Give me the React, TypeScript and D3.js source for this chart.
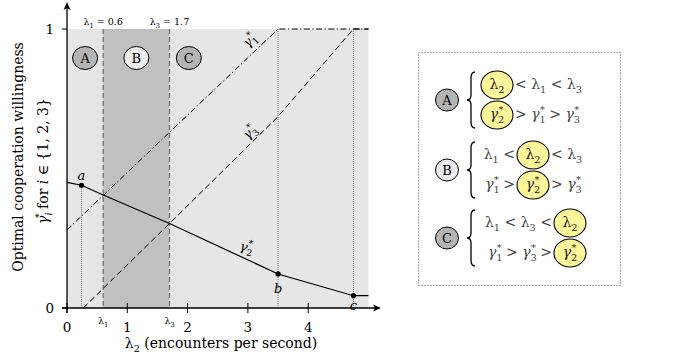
import React from "react";
import * as d3 from "d3";

// ---------- data ----------
const xTicks = [0, 1, 2, 3, 4];
const yTicks = [0, 1];
const lambda1 = 0.6;
const lambda3 = 1.7;

const gamma1Lambda = [0, 3.5, 5];
const gamma1Values = [0.28, 1, 1];

const gamma2Lambda = [0, 0.24, 0.6, 1.7, 3.5, 4.75, 5];
const gamma2Values = [0.45, 0.44, 0.405, 0.303, 0.122, 0.044, 0.044];

const gamma3Lambda = [0.27, 0.6, 1.7, 3.5, 4.75, 5];
const gamma3Values = [0, 0.07, 0.303, 0.686, 1, 1];

const markLabels = ["a", "b", "c"];
const markLambda = [0.24, 3.5, 4.75];
const markValues = [0.44, 0.122, 0.044];

const regionLabels = ["A", "B", "C"];
const regionLambda = [0.3, 1.15, 2.02];

// ---------- layout ----------
const FONT = "DejaVu Serif, Liberation Serif, serif";
const x = d3.scaleLinear().domain([0, 5]).range([67, 368.5]);
const y = d3.scaleLinear().domain([0, 1]).range([308, 29]);

type Tok = string | { b: string; sub?: string; sup?: string; it?: boolean };

function mathTspans(tokens: Tok[], size: number) {
  const out: React.ReactNode[] = [];
  let off = 0;
  let k = 0;
  tokens.forEach((t) => {
    if (typeof t === "string") {
      out.push(
        <tspan key={k++} dy={-off} fontStyle="normal" fontSize={size}>
          {t}
        </tspan>
      );
      off = 0;
    } else {
      out.push(
        <tspan key={k++} dy={-off} fontStyle={t.it === false ? "normal" : "italic"} fontSize={size}>
          {t.b}
        </tspan>
      );
      off = 0;
      const ss = size * 0.7;
      if (t.sub) {
        const d = size * 0.28;
        out.push(
          <tspan key={k++} dy={d} fontSize={ss} fontStyle={/[a-z]/.test(t.sub) ? "italic" : "normal"}>
            {t.sub}
          </tspan>
        );
        off += d;
      }
      if (t.sup) {
        const d = t.sub ? -size * 0.72 : -size * 0.42;
        out.push(
          <tspan key={k++} dx={t.sub ? -ss * 0.6 : 0} dy={d} fontSize={ss}>
            {t.sup}
          </tspan>
        );
        off += d;
      }
    }
  });
  return out;
}

const L = (s: string): Tok => ({ b: "λ", sub: s, it: false });
const G = (s: string): Tok => ({ b: "γ", sub: s, sup: "*" });

// Legend rows: left tokens, highlighted token, right tokens
const legendLeft: Tok[][][] = [
  [[], []],
  [[L("1"), " <"], [G("1"), " >"]],
  [[L("1"), " < ", L("3"), " <"], [G("1"), " > ", G("3"), " >"]],
];
const legendHl: Tok[][] = [
  [L("2"), G("2")],
  [L("2"), G("2")],
  [L("2"), G("2")],
];
const legendRight: Tok[][][] = [
  [["< ", L("1"), " < ", L("3")], ["> ", G("1"), " > ", G("3")]],
  [["< ", L("3")], ["> ", G("3")]],
  [[], []],
];
const legendHlX = [497, 533, 570];
const legendCy = [100, 170, 238];
const regionFill = ["#b4b4b4", "#ececec", "#b4b4b4"];

function Brace({ x0, y0, y1 }: { x0: number; y0: number; y1: number }) {
  const m = (y0 + y1) / 2;
  const d = `M${x0 + 4},${y0} Q${x0},${y0} ${x0},${y0 + 6} L${x0},${m - 5} Q${x0},${m} ${x0 - 4},${m} Q${x0},${m} ${x0},${m + 5} L${x0},${y1 - 6} Q${x0},${y1} ${x0 + 4},${y1}`;
  return <path d={d} fill="none" stroke="#000" strokeWidth={1.3} />;
}

export default function App() {
  const line = d3
    .line<[number, number]>()
    .x((d) => x(d[0]))
    .y((d) => y(d[1]));
  const g1 = line(gamma1Lambda.map((l, i) => [l, gamma1Values[i]]))!;
  const g2 = line(gamma2Lambda.map((l, i) => [l, gamma2Values[i]]))!;
  const g3 = line(gamma3Lambda.map((l, i) => [l, gamma3Values[i]]))!;

  return (
    <svg
      width={674}
      height={360}
      style={{ position: "absolute", left: 0, top: 0, background: "#fff" }}
      fontFamily={FONT}
    >
      {/* background areas */}
      <rect x={x(0)} y={y(1)} width={x(5) - x(0)} height={y(0) - y(1)} fill="#e6e6e6" />
      <rect x={x(lambda1)} y={y(1)} width={x(lambda3) - x(lambda1)} height={y(0) - y(1)} fill="#c0c0c0" />

      {/* dotted verticals */}
      <line x1={x(markLambda[0])} x2={x(markLambda[0])} y1={y(markValues[0])} y2={y(0)} stroke="#777" strokeDasharray="1 1" />
      {[1, 2].map((i) => (
        <line key={i} x1={x(markLambda[i])} x2={x(markLambda[i])} y1={y(1)} y2={y(0)} stroke="#777" strokeDasharray="1 1" />
      ))}

      {/* lambda dashed lines */}
      {[lambda1, lambda3].map((l, i) => (
        <line key={i} x1={x(l)} x2={x(l)} y1={y(1)} y2={y(0)} stroke="#6e6e6e" strokeWidth={1.2} strokeDasharray="5 3" />
      ))}

      {/* curves */}
      <path d={g1} fill="none" stroke="#000" strokeWidth={1} strokeDasharray="6 2.5 1.2 2.5" />
      <path d={g3} fill="none" stroke="#000" strokeWidth={1} strokeDasharray="6 3.5" />
      <path d={g2} fill="none" stroke="#000" strokeWidth={1.2} />

      {/* marks */}
      {markLambda.map((l, i) => (
        <circle key={i} cx={x(l)} cy={y(markValues[i])} r={2.6} fill="#000" />
      ))}
      <text x={x(markLambda[0])} y={y(markValues[0]) - 5} fontSize={13} fontStyle="italic" textAnchor="middle">{markLabels[0]}</text>
      <text x={x(markLambda[1])} y={y(markValues[1]) + 19} fontSize={13} fontStyle="italic" textAnchor="middle">{markLabels[1]}</text>
      <text x={x(markLambda[2])} y={y(markValues[2]) + 14} fontSize={13} fontStyle="italic" textAnchor="middle">{markLabels[2]}</text>

      {/* region circles */}
      {regionLabels.map((r, i) => (
        <g key={r}>
          <ellipse cx={x(regionLambda[i])} cy={58} rx={12.5} ry={11.5} fill={regionFill[i]} stroke="#000" strokeWidth={1} />
          <text x={x(regionLambda[i])} y={62.5} fontSize={13} textAnchor="middle">{r}</text>
        </g>
      ))}

      {/* curve labels */}
      <text transform={`translate(248,48) rotate(-45)`} fontSize={13}>{mathTspans([G("1")], 13)}</text>
      <text transform={`translate(248,140) rotate(-45)`} fontSize={13}>{mathTspans([G("3")], 13)}</text>
      <text transform={`translate(239,250) rotate(12)`} fontSize={13}>{mathTspans([G("2")], 13)}</text>

      {/* top labels */}
      <text x={x(lambda1)} y={25} fontSize={9.5} textAnchor="middle">{mathTspans([L("1"), " = 0.6"], 9.5)}</text>
      <text x={x(lambda3)} y={25} fontSize={9.5} textAnchor="middle">{mathTspans([L("3"), " = 1.7"], 9.5)}</text>

      {/* axes */}
      <line x1={62} x2={376} y1={y(0)} y2={y(0)} stroke="#000" strokeWidth={1.3} />
      <path d={`M381,${y(0)} L373,${y(0) - 3.5} L375,${y(0)} L373,${y(0) + 3.5} Z`} fill="#000" />
      <line x1={x(0)} x2={x(0)} y1={313} y2={7} stroke="#000" strokeWidth={1.3} />
      <path d={`M${x(0)},2 L${x(0) - 3.5},10 L${x(0)},8 L${x(0) + 3.5},10 Z`} fill="#000" />
      {xTicks.map((t) => (
        <g key={t}>
          <line x1={x(t)} x2={x(t)} y1={303} y2={313} stroke="#000" strokeWidth={1} />
          <text x={x(t)} y={332} fontSize={13.5} textAnchor="middle">{t}</text>
        </g>
      ))}
      <text x={x(lambda1)} y={324} fontSize={9.5} textAnchor="middle">{mathTspans([L("1")], 9.5)}</text>
      <text x={x(lambda3)} y={324} fontSize={9.5} textAnchor="middle">{mathTspans([L("3")], 9.5)}</text>
      {yTicks.map((t) => (
        <g key={t}>
          <line x1={62} x2={x(0)} y1={y(t)} y2={y(t)} stroke="#000" strokeWidth={1} />
          <text x={54} y={y(t) + 5} fontSize={13.5} textAnchor="end">{t}</text>
        </g>
      ))}

      {/* axis titles */}
      <text x={221} y={348} fontSize={14} textAnchor="middle">
        {mathTspans([L("2"), " (encounters per second)"], 14)}
      </text>
      <text transform="translate(23,157) rotate(-90)" fontSize={14} textAnchor="middle">
        Optimal cooperation willingness
      </text>
      <text transform="translate(48,161) rotate(-90)" fontSize={14} textAnchor="middle">
        {mathTspans([{ b: "γ", sub: "i", sup: "*" }, " for ", { b: "i" }, " ∈ {1, 2, 3}"], 14)}
      </text>

      {/* legend */}
      <rect x={418.5} y={52.5} width={202} height={233} fill="none" stroke="#555" strokeDasharray="1 2" />
      {regionLabels.map((r, gi) => (
        <g key={r}>
          <ellipse cx={447} cy={legendCy[gi]} rx={11.5} ry={11} fill={regionFill[gi]} stroke="#000" strokeWidth={1} />
          <text x={447} y={legendCy[gi] + 4.5} fontSize={13} textAnchor="middle">{r}</text>
          <Brace x0={471} y0={legendCy[gi] - 28} y1={legendCy[gi] + 28} />
          {[0, 1].map((ri) => {
            const cy = legendCy[gi] + (ri === 0 ? -15 : 15);
            const hx = legendHlX[gi];
            return (
              <g key={ri}>
                <ellipse cx={hx} cy={cy} rx={16} ry={14} fill="#fff59a" stroke="#000" strokeWidth={1.1} />
                <text x={hx} y={cy + 4} fontSize={14} textAnchor="middle" fill="#222">
                  {mathTspans([legendHl[gi][ri]], 14)}
                </text>
                {legendLeft[gi][ri].length > 0 && (
                  <text x={hx - 18} y={cy + 4} fontSize={14} textAnchor="end" fill="#444">
                    {mathTspans(legendLeft[gi][ri], 14)}
                  </text>
                )}
                {legendRight[gi][ri].length > 0 && (
                  <text x={hx + 18} y={cy + 4} fontSize={14} textAnchor="start" fill="#444">
                    {mathTspans(legendRight[gi][ri], 14)}
                  </text>
                )}
              </g>
            );
          })}
        </g>
      ))}
    </svg>
  );
}
